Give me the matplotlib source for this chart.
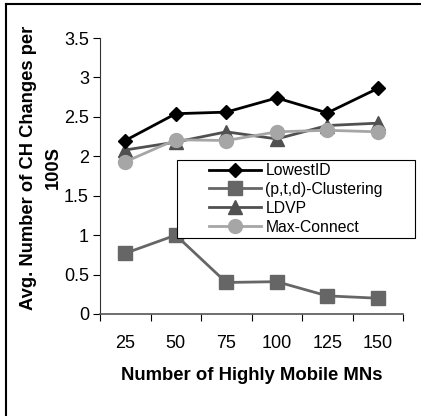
import matplotlib
matplotlib.use("Agg")
import matplotlib.pyplot as plt
from matplotlib.lines import Line2D
from matplotlib.patches import Rectangle

plt.rcParams['font.family'] = ['Liberation Sans', 'DejaVu Sans']

categories = ['25', '50', '75', '100', '125', '150']
lowest_id = [2.20, 2.54, 2.56, 2.74, 2.55, 2.86]
clustering = [0.77, 1.00, 0.40, 0.41, 0.23, 0.20]
ldvp = [2.08, 2.18, 2.31, 2.22, 2.39, 2.42]
max_connect = [1.93, 2.21, 2.20, 2.31, 2.33, 2.31]

W, H = 421, 416
fig = plt.figure(figsize=(W / 100, H / 100), dpi=100)
ax = fig.add_axes([100 / W, 1 - 314 / H, 303 / W, 276 / H])

x = [i + 0.5 for i in range(len(categories))]
ax.plot(x, lowest_id, color='black', lw=2, marker='D', ms=7.5, label='LowestID', zorder=5)
ax.plot(x, clustering, color='#666666', lw=2, marker='s', ms=10, label='(p,t,d)-Clustering', zorder=3)
ax.plot(x, ldvp, color='#505050', lw=2, marker='^', ms=10, label='LDVP', zorder=3)
ax.plot(x, max_connect, color='#a6a6a6', lw=2, marker='o', ms=10, label='Max-Connect', zorder=4)

ax.set_xlim(0, 6)
ax.set_ylim(0, 3.5)
ax.set_yticks([0, 0.5, 1, 1.5, 2, 2.5, 3, 3.5])
ax.set_yticklabels(['0', '0.5', '1', '1.5', '2', '2.5', '3', '3.5'], fontsize=13)
ax.set_xticks(range(7))
ax.set_xticklabels([])
ax.set_xticks(x, minor=True)
ax.set_xticklabels(categories, minor=True, fontsize=13)
ax.tick_params(axis='x', which='major', length=5, direction='out', color='black')
ax.tick_params(axis='x', which='minor', length=0, pad=15)
ax.tick_params(axis='y', length=5, direction='out', pad=3)

for s in ['top', 'right']:
    ax.spines[s].set_visible(False)
ax.spines['left'].set_color('#333333')
ax.spines['bottom'].set_color('#555555')
ax.spines['bottom'].set_linewidth(1.2)

ax.set_xlabel('Number of Highly Mobile MNs', fontsize=13.3, fontweight='bold')
ax.xaxis.set_label_coords(0.5, (314 - 367) / 276)
ax.set_ylabel('Avg. Number of CH Changes per\n100S', fontsize=13.2, fontweight='bold',
              linespacing=1.65)
ax.yaxis.set_label_coords((62 - 100) / 303, (314 - 167.5) / 276)

# legend box drawn separately (wider padding left/right than top/bottom)
fig.add_artist(Rectangle((177 / W, 1 - 238 / H), 238 / W, 78 / H, transform=fig.transFigure,
                         facecolor='white', edgecolor='black', lw=0.8, zorder=6))
handles, labels = ax.get_legend_handles_labels()
leg = fig.legend(handles, labels, loc='upper left', bbox_to_anchor=(209 / W, 1 - 163 / H),
                 fontsize=11.3, frameon=False,
                 handlelength=3.3, handletextpad=0.3, labelspacing=0.25, borderpad=0,
                 borderaxespad=0)
leg.set_zorder(7)

fig.add_artist(Line2D([6 / W, 6 / W], [0, 1 - 3.5 / H], transform=fig.transFigure, color='black', lw=1.5))
fig.add_artist(Line2D([6 / W, 1], [1 - 3.5 / H, 1 - 3.5 / H], transform=fig.transFigure, color='black', lw=1.5))

fig.savefig('out.png', dpi=100)
